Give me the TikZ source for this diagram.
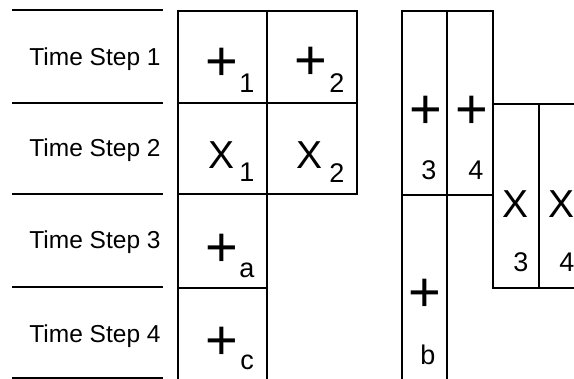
\documentclass[tikz,border=0pt]{standalone}
\usepackage{fontspec}
\setmainfont{Liberation Sans}
\usetikzlibrary{positioning}

\tikzset{
  cell/.style={draw, line width=0.75pt, inner sep=0pt, outer sep=0pt},
  steplabel/.style={anchor=east, inner sep=0pt, font=\fontsize{12.25}{14}\selectfont},
  plus/.style={inner sep=0pt, font=\fontsize{28}{30}\selectfont},
  cross/.style={inner sep=0pt, font=\fontsize{19.5}{21}\selectfont},
  idx/.style={inner sep=0pt, font=\fontsize{13.5}{15}\selectfont},
  rule/.style={line width=0.75pt},
}

\begin{document}
\begin{tikzpicture}[x=0.5pt, y=-0.5pt]
  \useasboundingbox (0,0) rectangle (574,379);
  \clip (0,0) rectangle (574,379);

  % row rules and labels
  \foreach \y in {10,103,194,287,378}
    \draw[rule] (12,\y) -- (163,\y);
  \foreach \y/\k in {59/1,150/2,242/3,336/4}
    \node[steplabel] (ts\k) at (161,\y) {Time Step \k};

  % left block
  \node[cell, minimum width=44.5pt, minimum height=46pt] (c11) at (222.5,57) {};
  \node[cell, minimum width=45pt, minimum height=46pt] (c12) at (312,57) {};
  \node[cell, minimum width=44.5pt, minimum height=45.5pt] (c21) at (222.5,148.5) {};
  \node[cell, minimum width=45pt, minimum height=45.5pt] (c22) at (312,148.5) {};
  \node[cell, minimum width=44.5pt, minimum height=47pt] (c3) at (222.5,241) {};
  \node[cell, minimum width=44.5pt, minimum height=52pt] (c4) at (222.5,340) {};

  \node[plus] (p1) at (222,64) {+};
  \node[idx] (i1) at (247,83) {1};
  \node[plus] (p2) at (311,63) {+};
  \node[idx] (i2) at (337,83) {2};
  \node[cross] (x1) at (222,155) {X};
  \node[idx] (j1) at (247,172) {1};
  \node[cross] (x2) at (310,155) {X};
  \node[idx] (j2) at (337,173) {2};
  \node[plus] (pa) at (222,250) {+};
  \node[idx] (ia) at (247,270) {a};
  \node[plus] (pc) at (222,343) {+};
  \node[idx] (ic) at (247,362) {c};

  % right block
  \node[cell, minimum width=22.5pt, minimum height=92pt] (r3) at (424.5,103) {};
  \node[cell, minimum width=23pt, minimum height=92pt] (r4) at (470,103) {};
  \node[cell, minimum width=22.5pt, minimum height=100pt] (rb) at (424.5,295) {};
  \node[cell, minimum width=23pt, minimum height=92pt] (x3) at (516,196) {};
  \node[cell, minimum width=25.5pt, minimum height=92pt] (x4) at (564.5,196) {};

  \node[plus] (p3) at (426,112) {+};
  \node[idx] (i3) at (429,170) {3};
  \node[plus] (p4) at (472,112) {+};
  \node[idx] (i4) at (476,170) {4};
  \node[cross] (xx3) at (516,204) {X};
  \node[idx] (k3) at (521,262) {3};
  \node[cross] (xx4) at (562,204) {X};
  \node[idx] (k4) at (567,262) {4};
  \node[plus] (pb) at (425,295) {+};
  \node[idx] (ib) at (428,355) {b};
\end{tikzpicture}
\end{document}
